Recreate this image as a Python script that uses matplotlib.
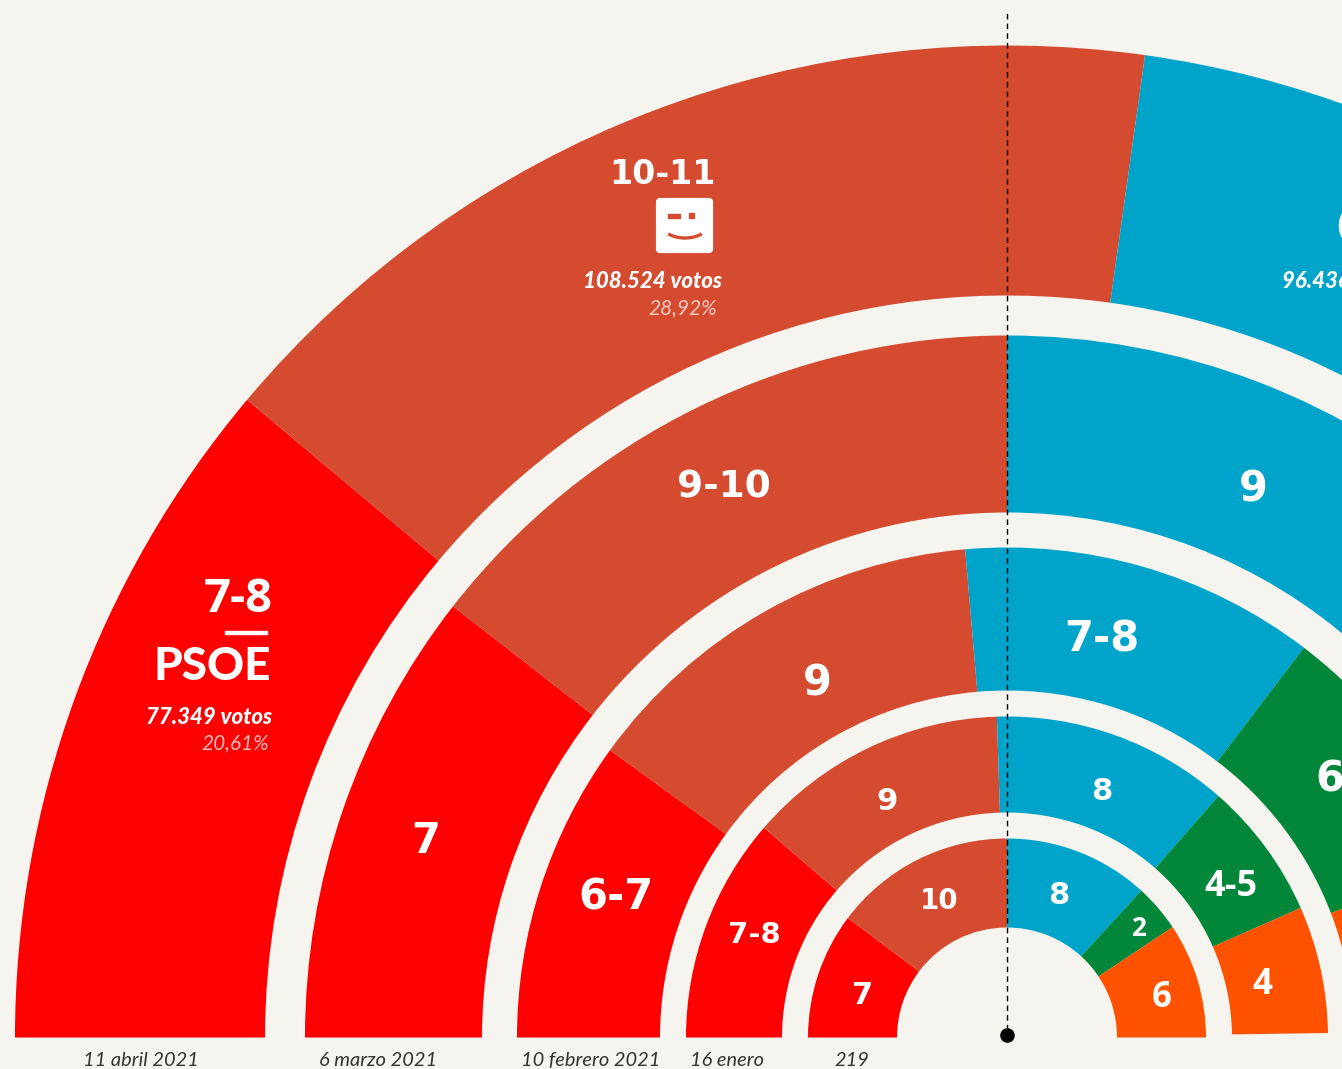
import numpy as np
import matplotlib
matplotlib.use('Agg')
import matplotlib.pyplot as plt
from matplotlib.patches import FancyBboxPatch, Rectangle, Arc
from matplotlib.transforms import IdentityTransform

W, H = 1342, 1069
CX, CY = 1007, 1037.5
RMAX = 1040
BG = '#F5F4EF'

RED = '#FF0000'
BROWN = '#D44B30'
BLUE = '#00A3CA'
GREEN = '#02863A'
ORANGE = '#FF5200'

# degrees of the half circle per party, from the left, one list per poll
poll_1 = [40.0, 58.0, 52.0]
poll_2 = [37.9, 52.1, 42.0]
poll_3 = [35.9, 49.2, 42.2, 31.7, 20.0]
poll_4 = [40.8, 47.4, 43.0, 25.0, 23.0]
poll_5 = [36.9, 53.1, 42.4, 13.9, 33.7]

colors_1 = [RED, BROWN, BLUE]
colors_2 = [RED, BROWN, BLUE]
colors_3 = [RED, BROWN, BLUE, GREEN, ORANGE]
colors_4 = [RED, BROWN, BLUE, GREEN, ORANGE]
colors_5 = [RED, BROWN, BLUE, GREEN, ORANGE]

seats_1 = ['7-8', '10-11']
seats_2 = ['7', '9-10', '9']
seats_3 = ['6-7', '9', '7-8', '6']
seats_4 = ['7-8', '9', '8', '4-5', '4']
seats_5 = ['7', '10', '8', '2', '6']

dates = ['11 abril 2021', '6 marzo 2021', '10 febrero 2021', '16 enero', '219']

fig = plt.figure(figsize=(W / 100, H / 100), dpi=100, facecolor=BG)
ax = fig.add_axes([(CX - RMAX) / W, (H - CY - RMAX) / H, 2 * RMAX / W, 2 * RMAX / H],
                  projection='polar')
ax.set_ylim(0, RMAX)
ax.axis('off')


def ring(values, cols, r0, r1):
    start = 180.0
    for v, c in zip(values, cols):
        ax.bar(np.radians(start - v / 2), r1 - r0, width=np.radians(v), bottom=r0,
               color=c, linewidth=0, align='center')
        start -= v


ring(poll_1, colors_1, 742, 992)
ring(poll_2, colors_2, 525, 702)
ring(poll_3, colors_3, 347, 490)
ring(poll_4, colors_4, 225, 321)
ring(poll_5, colors_5, 110, 199)

ax.plot([np.pi / 2, np.pi / 2], [8, 1025], color='black', lw=1, dashes=(4, 3), zorder=5)
ax.plot([np.pi / 2], [2.5], 'o', color='black', ms=9.5, zorder=5)


def label(x, y, s, size, ha='center', va='center', **kw):
    kw.setdefault('color', 'white')
    kw.setdefault('family', 'DejaVu Sans')
    kw.setdefault('weight', 'bold')
    fig.text(x / W, 1 - y / H, s, fontsize=size, ha=ha, va=va, **kw)


label(716, 175, seats_1[1], 24, ha='right')
label(238, 600, seats_1[0], 34, family='Open Sans')
label(212, 667, 'PSOE', 33, family='Lato', weight='black')
label(426, 841, seats_2[0], 30)
label(724, 487, seats_2[1], 27)
label(1253, 490, seats_2[2], 30)
label(616, 897, seats_3[0], 30)
label(817, 683, seats_3[1], 30)
label(1102, 639, seats_3[2], 30)
label(1315, 780, seats_3[3], 30, ha='left')
label(754, 935, seats_4[0], 21)
label(887, 802, seats_4[1], 22)
label(1102, 792, seats_4[2], 22)
label(1231, 887, seats_4[3], 26, family='Open Sans')
label(1262, 985, seats_4[4], 25, family='Open Sans')
label(863, 995, seats_5[0], 22)
label(939, 901, seats_5[1], 20)
label(1059, 896, seats_5[2], 22)
label(1139, 929, seats_5[3], 19, family='Open Sans')
label(1162, 998, seats_5[4], 25, family='Open Sans')

label(722, 281, '108.524 votos', 16, ha='right', family='Lato', style='italic', weight='black')
label(717, 308, '28,92%', 15, ha='right', family='Lato', style='italic', weight='normal',
      color='#F2C9BF')
label(272, 718, '77.349 votos', 16, ha='right', family='Lato', style='italic', weight='black')
label(269, 743, '20,61%', 15, ha='right', family='Lato', style='italic', weight='normal',
      color='#FFB8B8')
label(1282, 281, '96.436 votos', 16, ha='left', family='Lato', style='italic', weight='black')
label(1335, 230, 'C', 40, ha='left')

for x, s in zip([141, 378, 591, 727, 852], dates):
    label(x, 1066, s, 14.4, va='baseline', color='#333333', family='Lato', style='italic',
          weight='normal')

# rule between seats and party name
fig.add_artist(Rectangle((225, H - 633.5), 42, 3, color='white', transform=IdentityTransform()))

# logo
fig.add_artist(FancyBboxPatch((658, H - 251), 53, 51, boxstyle='round,pad=0,rounding_size=2',
                              fc='white', ec='white', lw=3, transform=IdentityTransform()))
fig.add_artist(Rectangle((668, H - 218), 12, 4, color=BROWN, transform=IdentityTransform()))
fig.add_artist(Rectangle((689, H - 218), 5, 5, color=BROWN, transform=IdentityTransform()))
fig.add_artist(Arc((685, H - 226), 44, 24, theta1=205, theta2=335, color=BROWN, lw=2.4,
                   transform=IdentityTransform()))

fig.savefig('out.png', dpi=100, facecolor=BG)
